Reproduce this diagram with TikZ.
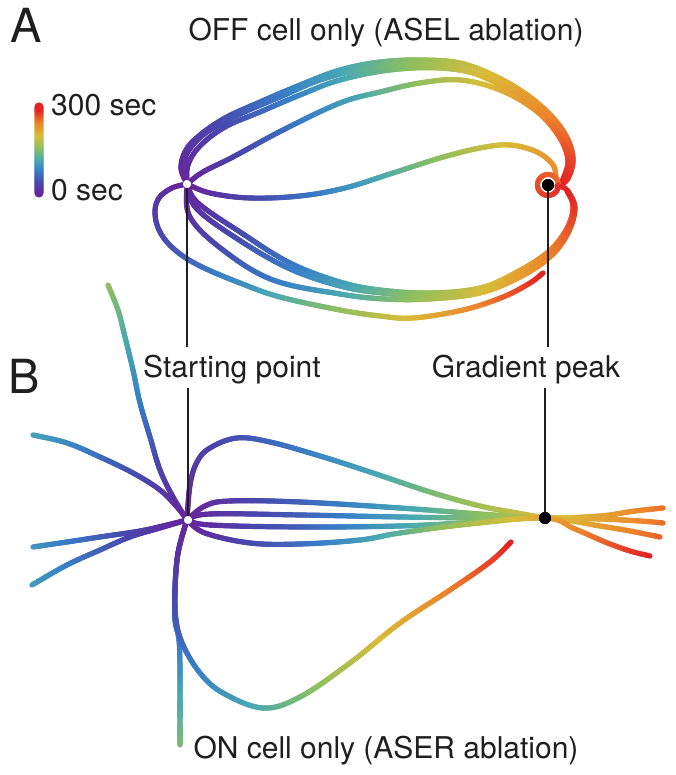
\documentclass[tikz,border=0pt]{standalone}
\usepackage{fontspec}
\setmainfont{TeX Gyre Heros}
\newcount\trN
\newcommand\cmInterp[8]{%
  \pgfmathsetmacro\cmF{(\cmT-#1)/(#2-#1)}%
  \pgfmathsetmacro\cmR{#3+(#6-#3)*\cmF}%
  \pgfmathsetmacro\cmG{#4+(#7-#4)*\cmF}%
  \pgfmathsetmacro\cmB{#5+(#8-#5)*\cmF}%
  \definecolor{tc}{rgb}{\cmR,\cmG,\cmB}}
\newcommand\cmapcolor[1]{%
  \pgfmathsetmacro\cmT{max(0,min(1,#1))}%
  \ifdim\cmT pt<0.15pt \cmInterp{0}{0.15}{.42}{.13}{.60}{.28}{.28}{.68}%
  \else\ifdim\cmT pt<0.30pt \cmInterp{0.15}{0.30}{.28}{.28}{.68}{.22}{.50}{.78}%
  \else\ifdim\cmT pt<0.42pt \cmInterp{0.30}{0.42}{.22}{.50}{.78}{.28}{.66}{.70}%
  \else\ifdim\cmT pt<0.55pt \cmInterp{0.42}{0.55}{.28}{.66}{.70}{.55}{.75}{.38}%
  \else\ifdim\cmT pt<0.70pt \cmInterp{0.55}{0.70}{.55}{.75}{.38}{.85}{.74}{.22}%
  \else\ifdim\cmT pt<0.85pt \cmInterp{0.70}{0.85}{.85}{.74}{.22}{.93}{.52}{.17}%
  \else \cmInterp{0.85}{1}{.93}{.52}{.17}{.89}{.13}{.15}%
  \fi\fi\fi\fi\fi\fi}
% #1 start time fraction, #2 end time fraction, #3 list x/y,...
\newcommand\traj[3]{%
  \gdef\trXs{}\gdef\trYs{}\global\trN=0\relax
  \foreach \px/\py in {#3}{%
    \ifnum\trN=0 \xdef\trXs{\px}\xdef\trYs{\py}%
    \else \xdef\trXs{\trXs,\px}\xdef\trYs{\trYs,\py}\fi
    \global\advance\trN by 1\relax}%
  \pgfmathtruncatemacro\trLast{\trN-1}%
  \pgfmathtruncatemacro\trSegs{\trN-2}%
  \gdef\trTot{0}%
  \foreach \si in {0,...,\trSegs}{%
    \pgfmathtruncatemacro\sn{\si+1}%
    \pgfmathsetmacro\sXa{{\trXs}[\si]}\pgfmathsetmacro\sYa{{\trYs}[\si]}%
    \pgfmathsetmacro\sXb{{\trXs}[\sn]}\pgfmathsetmacro\sYb{{\trYs}[\sn]}%
    \pgfmathsetmacro\sD{veclen(\sXb-\sXa,\sYb-\sYa)}%
    \pgfmathsetmacro\sTmp{\trTot+\sD}\xdef\trTot{\sTmp}}%
  \gdef\trCum{0}%
  \pgfmathsetmacro\sTmp{{\trXs}[0]}\xdef\trPX{\sTmp}%
  \pgfmathsetmacro\sTmp{{\trYs}[0]}\xdef\trPY{\sTmp}%
  \foreach \si in {0,...,\trSegs}{%
    \pgfmathtruncatemacro\sn{\si+1}%
    \pgfmathtruncatemacro\sM{max(\si-1,0)}%
    \pgfmathtruncatemacro\sP{min(\si+2,\trLast)}%
    \pgfmathsetmacro\sXa{{\trXs}[\si]}\pgfmathsetmacro\sYa{{\trYs}[\si]}%
    \pgfmathsetmacro\sXb{{\trXs}[\sn]}\pgfmathsetmacro\sYb{{\trYs}[\sn]}%
    \pgfmathsetmacro\sXm{{\trXs}[\sM]}\pgfmathsetmacro\sYm{{\trYs}[\sM]}%
    \pgfmathsetmacro\sXp{{\trXs}[\sP]}\pgfmathsetmacro\sYp{{\trYs}[\sP]}%
    \pgfmathsetmacro\sCax{\sXa+0.17*(\sXb-\sXm)}\pgfmathsetmacro\sCay{\sYa+0.17*(\sYb-\sYm)}%
    \pgfmathsetmacro\sCbx{\sXb-0.17*(\sXp-\sXa)}\pgfmathsetmacro\sCby{\sYb-0.17*(\sYp-\sYa)}%
    \pgfmathsetmacro\sD{veclen(\sXb-\sXa,\sYb-\sYa)}%
    \pgfmathtruncatemacro\sK{max(2,\sD/1.8)}%
    \foreach \sj in {1,...,\sK}{%
      \pgfmathsetmacro\sT{\sj/\sK}%
      \pgfmathsetmacro\sU{1-\sT}%
      \pgfmathsetmacro\sQx{\sU*\sU*\sU*\sXa+3*\sU*\sU*\sT*\sCax+3*\sU*\sT*\sT*\sCbx+\sT*\sT*\sT*\sXb}%
      \pgfmathsetmacro\sQy{\sU*\sU*\sU*\sYa+3*\sU*\sU*\sT*\sCay+3*\sU*\sT*\sT*\sCby+\sT*\sT*\sT*\sYb}%
      \pgfmathsetmacro\sFr{#1+(#2-#1)*(\trCum+\sT*\sD)/\trTot}%
      \cmapcolor{\sFr}%
      \draw[tc, line width=5.2pt, line cap=round] (\trPX,\trPY) -- (\sQx,\sQy);%
      \xdef\trPX{\sQx}\xdef\trPY{\sQy}}%
    \pgfmathsetmacro\sTmp{\trCum+\sD}\xdef\trCum{\sTmp}}}
\definecolor{ink}{rgb}{0.12,0.12,0.12}
\tikzset{
  startdot/.style={circle, fill=white, inner sep=0pt, minimum size=8pt},
  peakdot/.style={circle, fill=black, inner sep=0pt, minimum size=12pt},
  leader/.style={draw=ink, line width=1.2pt},
  lbl/.style={inner sep=0pt, text=ink, font=\fontsize{30}{36}\selectfont},
  panel/.style={inner sep=0pt, text=ink, font=\fontsize{47}{54}\selectfont},
}
\begin{document}
\begin{tikzpicture}[x=1pt,y=-1pt]
\fill[white] (0,0) rectangle (675,775);
\useasboundingbox (0,0) rectangle (675,775);

% ---------- colour bar ----------
\foreach \i in {0,...,86}{
  \pgfmathsetmacro\cbt{\i/86}
  \cmapcolor{\cbt}
  \fill[tc] (39,193-\i) circle[radius=4.6pt];
}

% ---------- panel A traces ----------
\traj{0}{0.84}{187/184, 210/193, 250/198, 300/196, 345/188, 390/174, 440/158, 480/148, 510/145, 537/152, 553/165, 556/178}
\traj{0}{1}{187/184, 203/172, 233/157, 283/130, 340/103, 380/92, 420/83, 460/80, 500/90, 535/110, 558/135, 568/160, 562/182}
\traj{0}{1}{187/184, 188/165, 200/146, 225/127, 260/112, 300/95, 340/80, 390/70, 440/68, 480/75, 515/92, 545/115, 563/140, 570/165, 562/183}
\traj{0}{1}{187/184, 181/168, 186/150, 200/135, 225/118, 260/102, 300/85, 340/70, 380/62, 420/60, 460/63, 497/77, 530/97, 555/120, 569/142, 573/162, 567/180, 557/186}
\traj{0}{1}{187/184, 184/163, 192/146, 210/130, 240/114, 280/97, 320/80, 360/70, 400/65, 450/66, 490/80, 525/100, 552/125, 566/150, 568/172, 560/185}
\traj{0}{1}{187/184, 172/188, 159/198, 155/213, 160/232, 175/250, 200/266, 240/283, 280/297, 340/310, 380/316, 413/318, 463/310, 503/297, 530/283, 543/273}
\traj{0}{1}{187/184, 190/217, 223/250, 273/280, 340/294, 385/299, 430/299, 480/293, 520/277, 550/257, 568/233, 575/208, 568/191}
\traj{0}{1}{187/184, 198/203, 240/232, 290/263, 340/282, 380/290, 430/293, 480/288, 517/272, 548/252, 566/230, 573/208, 567/190, 557/186}
\traj{0}{1}{187/184, 196/208, 236/238, 288/268, 340/286, 382/293, 430/296, 480/291, 519/274, 549/254, 567/231, 574/208, 567/191}
\traj{0.88}{0.98}{558.5/185, 557.1/179.75, 553.25/175.9, 548/174.5, 542.75/175.9, 538.9/179.75, 537.5/185, 538.9/190.25, 542.75/194.1, 548/195.5, 553.25/194.1, 557.1/190.25, 558.5/185}

% ---------- panel B traces ----------
\traj{0}{0.55}{187/520, 173/497, 160/470, 150/437, 140/403, 133/370, 125/337, 118/310, 108/285}
\traj{0}{0.40}{187/520, 177/507, 160/490, 133/473, 100/457, 67/443, 33/435}
\traj{0}{0.36}{187/520, 167/525, 140/531, 100/537, 67/542, 33/547}
\traj{0}{0.38}{187/520, 160/528, 130/537, 100/550, 67/565, 32/585}
\traj{0}{0.52}{187/520, 181/540, 177/560, 175/590, 175/620, 179/640, 180/670, 180/700, 180/745}
\traj{0}{1}{187/520, 181/540, 177/560, 175/590, 176/620, 183/645, 200/673, 223/693, 263/708, 300/697, 350/663, 400/623, 450/590, 490/562, 511/542}
\traj{0}{0.70}{187/520, 190/485, 197/462, 210/448, 237/438, 270/442, 320/456, 370/472, 430/492, 480/506, 517/513, 545/518}
\traj{0}{0.88}{187/520, 205/506, 230/501, 300/502, 400/508, 480/514, 545/518, 600/516, 635/511, 663/508}
\traj{0}{0.88}{187/520, 210/514, 300/515, 400/517, 480/518, 545/518, 600/519, 640/521, 663/523}
\traj{0}{0.90}{187/520, 210/525, 300/527, 400/526, 480/522, 545/518, 600/526, 630/531, 660/537}
\traj{0}{1}{187/520, 205/533, 250/543, 300/544, 360/540, 400/533, 470/524, 545/518, 575/529, 605/542, 630/551, 650/556}

% ---------- markers, leaders ----------
\coordinate (la1) at (187,347);
\coordinate (la2) at (188,388);
\coordinate (lb1) at (548,347);
\coordinate (lb2) at (545,388);
\node[startdot] (SA) at (187,184) {};
\node[peakdot]  (PA) at (548,185) {};
\node[startdot] (SB) at (188,520) {};
\node[peakdot]  (PB) at (545,518) {};
\draw[leader] (SA.center) -- (la1);
\draw[leader] (la2) -- (SB.center);
\draw[leader] (PA.center) -- (lb1);
\draw[leader] (lb2) -- (PB.center);
\node[startdot] at (SA) {};
\node[peakdot]  at (PA) {};
\node[startdot] at (SB) {};
\node[peakdot]  at (PB) {};

% ---------- text ----------
\node[panel, anchor=base west] (pA) at (10,43) {A};
\node[panel, anchor=base west] (pB) at (8,393) {B};
\node[lbl, anchor=base] (tA) at (386,41) {OFF cell only (ASEL ablation)};
\node[lbl, anchor=base west] (c300) at (51,116) {300 sec};
\node[lbl, anchor=base west] (c0) at (51,201) {0 sec};
\node[lbl, anchor=base] (tSP) at (232,377) {Starting point};
\node[lbl, anchor=base] (tGP) at (526,377) {Gradient peak};
\node[lbl, anchor=base] (tB) at (386,758) {ON cell only (ASER ablation)};
\end{tikzpicture}
\end{document}
